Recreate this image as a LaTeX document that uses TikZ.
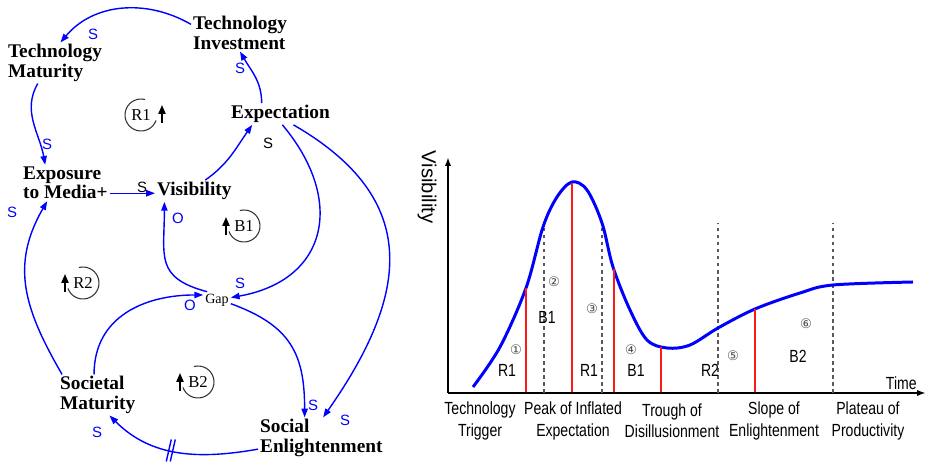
\documentclass[tikz,border=0pt]{standalone}
\usepackage{fontspec}
\setmainfont{Liberation Serif}
\setsansfont{Liberation Sans}
\newfontfamily\plotfont[FakeStretch=0.8]{Liberation Sans}
\newfontfamily\circfont{DejaVu Sans}
\usepackage{tikz}
\usetikzlibrary{arrows.meta, positioning, calc}
\definecolor{cldblue}{HTML}{0000FF}
\definecolor{cldred}{HTML}{FF1A1A}

\begin{document}
\begin{tikzpicture}[
    x=0.02cm, y=0.02cm,
    varnode/.style={anchor=west, align=left, inner sep=1pt, font=\fontsize{11}{11}\selectfont\bfseries},
    link/.style={draw=cldblue, line width=0.8pt, -{Triangle[length=5pt, width=3.6pt]}},
    pol/.style={font=\fontsize{8.5}{9}\selectfont\sffamily, text=#1, inner sep=0pt},
    pol/.default=cldblue,
    loopsym/.style={font=\fontsize{9.5}{10}\selectfont, inner sep=0pt},
    loopline/.style={draw=black!80, line width=0.6pt},
    loopmark/.style={draw=black, line width=0.9pt, -{Triangle[length=5pt, width=4pt]}},
    axis/.style={line width=1.2pt, -{Latex[length=5pt, width=3.5pt]}},
    hype/.style={draw=cldblue, line width=1.7pt},
    redbar/.style={draw=cldred, line width=1.1pt},
    phase/.style={draw=black!65, line width=0.7pt, dash pattern=on 2pt off 2pt},
    plotlbl/.style={font=\fontsize{10}{12}\selectfont\plotfont, inner sep=0pt, align=center},
    circnum/.style={font=\fontsize{7.5}{8}\selectfont\circfont, text=black!70, inner sep=0pt},
]
\useasboundingbox (0,0) rectangle (937,469);

\node[varnode] (ti) at (191,436) {Technology\\Investment};
\node[varnode] (tm) at (6,406) {Technology\\Maturity};
\node[varnode] (ex) at (229,355) {Expectation};
\node[varnode] (em) at (21,286) {Exposure\\to Media+};
\node[varnode] (vi) at (155,278) {Visibility};
\node[inner sep=1pt, font=\fontsize{8}{8}\selectfont] (gp) at (217,169) {Gap};
\node[varnode] (sm) at (58,74) {Societal\\Maturity};
\node[varnode] (se) at (258,31) {Social\\Enlightenment};

\draw[link] (ti.170) to[out=150, in=50] (tm.75);
\draw[link] (tm.230) to[out=240, in=100] (em.138);
\draw[link] (em.-13) -- (em.-13 -| vi.west);
\draw[link] (vi.45) to[out=35, in=235] (ex.201);
\draw[link] (ex.150) to[out=90, in=-60] (ti.south);
\draw[link] (ex.280) to[out=-50, in=10, looseness=1.4] (gp.10);
\draw[link] (ex.-40) to[out=-30, in=55, looseness=1.3] (se.85);
\draw[link] (gp.140) to[out=165, in=-90, looseness=1.4] (vi.200);
\draw[link] (sm.100) to[out=90, in=180, looseness=1.1] (gp.160);
\draw[link] (gp.-15) to[out=-20, in=90, looseness=1.2] (se.129);
\draw[link] (se.190) to[out=190, in=-45] coordinate[pos=.55] (dly) (sm.-60);
\draw[link] (sm.150) to[out=120, in=240, looseness=1.1] (em.225);
\draw[draw=cldblue, line width=0.8pt] ($(dly)+(-4,-11)$) -- ++(5,22);
\draw[draw=cldblue, line width=0.8pt] ($(dly)+(0,-11)$) -- ++(5,22);

\node[pol] (p1) at (93,435) {S};
\node[pol] (p2) at (47,325) {S};
\node[pol=black] (p3) at (142,282) {S};
\node[pol=black] (p4) at (268,326) {S};
\node[pol] (p5) at (240,401) {S};
\node[pol] (p6) at (240,186) {S};
\node[pol] (p7) at (313,64) {S};
\node[pol] (p8) at (345,49) {S};
\node[pol] (p9) at (178,251) {O};
\node[pol] (p10) at (190,164) {O};
\node[pol] (p11) at (97,37) {S};
\node[pol] (p12) at (12,257) {S};

\node[loopsym] (r1) at (141,354) {R1};
\draw[loopline] (r1.center) ++(75:16) arc[start angle=75, end angle=340, radius=16];
\draw[loopmark] ($(r1)+(21,-8)$) -- ++(0,18);
\node[loopsym] (b1) at (244,243) {B1};
\node[loopsym] (r2) at (83,186) {R2};
\node[loopsym] (b2) at (198,87) {B2};
\foreach \lp in {b1, r2, b2} {
  \draw[loopline] (\lp.center) ++(105:16) arc[start angle=105, end angle=-160, radius=16];
  \draw[loopmark] ($(\lp)+(-18,-9)$) -- ++(0,18);
}

\coordinate (o) at (448,76);
\draw[axis] (o) -- (448,312);
\draw[axis] (o) -- (926,76);
\node[rotate=-90, font=\fontsize{11.5}{12}\selectfont\sffamily, inner sep=0pt] (ylab) at (427,282) {Visibility};
\node[plotlbl, anchor=east] (tlab) at (917,86) {Time};

\foreach \xx in {544, 602, 718, 833} {
  \draw[phase] (\xx,76) -- (\xx,246);
}
\draw[hype] plot[smooth, tension=0.55] coordinates {(473,82) (500,122) (526,181) (543,242) (557,272) (572,287) (587,279) (602,246) (613,202) (630,159) (647,129) (667,121) (690,124) (718,141) (755,160) (800,176) (833,184) (913,187)};
\draw[redbar] (526,77) -- (526,181);
\draw[redbar] (572,77) -- (572,286);
\draw[redbar] (614,77) -- (614,200);
\draw[redbar] (661,77) -- (661,122);
\draw[redbar] (755,77) -- (755,160);

\node[circnum] (n1) at (516,119) {①};
\node[plotlbl] (k1) at (507,99) {R1};
\node[circnum] (n2) at (554,187) {②};
\node[plotlbl] (k2) at (547,152) {B1};
\node[circnum] (n3) at (592,160) {③};
\node[plotlbl] (k3) at (589,99) {R1};
\node[circnum] (n4) at (631,119) {④};
\node[plotlbl] (k4) at (636,99) {B1};
\node[plotlbl] (k5) at (710,99) {R2};
\node[circnum] (n5) at (733,113) {⑤};
\node[circnum] (n6) at (806,145) {⑥};
\node[plotlbl] (k6) at (798,113) {B2};

\node[plotlbl] (ph1) at (480,48) {Technology\\Trigger};
\node[plotlbl] (ph2) at (573,48) {Peak of Inflated\\Expectation};
\node[plotlbl] (ph3) at (672,48) {Trough of\\Disillusionment};
\node[plotlbl] (ph4) at (774,48) {Slope of\\Enlightenment};
\node[plotlbl] (ph5) at (868,48) {Plateau of\\Productivity};

\end{tikzpicture}
\end{document}
